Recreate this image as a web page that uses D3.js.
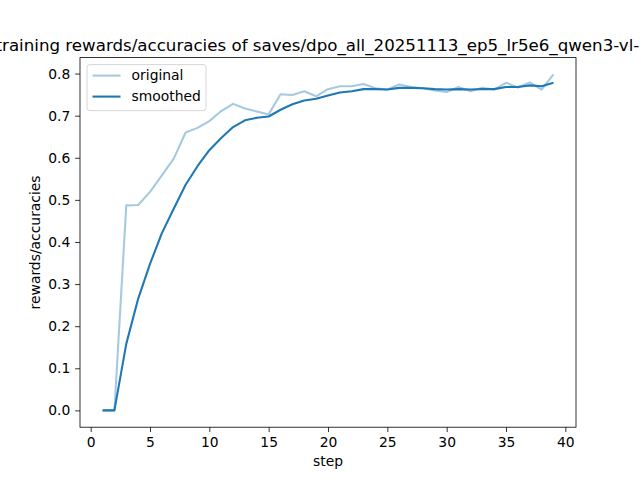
<!DOCTYPE html>
<html>
<head>
<meta charset="utf-8">
<script src="https://cdn.jsdelivr.net/npm/d3@7"></script>
<style>
	body { margin: 0; background: #fff; }
	text { font-family: "DejaVu Sans", sans-serif; fill: #000; }
</style>
</head>
<body>
<script>
// values
var steps = [1, 2, 3, 4, 5, 6, 7, 8, 9, 10, 11, 12, 13, 14, 15, 16, 17, 18, 19, 20,
	21, 22, 23, 24, 25, 26, 27, 28, 29, 30, 31, 32, 33, 34, 35, 36, 37, 38, 39];
var original = [0, 0, 0.487, 0.488, 0.519, 0.558, 0.598, 0.660, 0.671, 0.687, 0.711, 0.728, 0.717, 0.710, 0.703, 0.751, 0.749, 0.758, 0.746, 0.763,
	0.770, 0.770, 0.775, 0.765, 0.762, 0.774, 0.768, 0.765, 0.760, 0.756, 0.768, 0.758, 0.766, 0.762, 0.778, 0.767, 0.779, 0.762, 0.798];
var smoothed = [0, 0, 0.158, 0.265, 0.348, 0.421, 0.479, 0.536, 0.580, 0.618, 0.647, 0.673, 0.689, 0.695, 0.698, 0.714, 0.727, 0.736, 0.740, 0.748,
	0.755, 0.758, 0.763, 0.763, 0.762, 0.766, 0.766, 0.765, 0.763, 0.762, 0.763, 0.762, 0.763, 0.763, 0.768, 0.768, 0.772, 0.770, 0.778];
var xTicks = [0, 5, 10, 15, 20, 25, 30, 35, 40];
var yTicks = [0.0, 0.1, 0.2, 0.3, 0.4, 0.5, 0.6, 0.7, 0.8];

var width = 640, height = 480;
var margin = { left: 80, right: 64, top: 57.6, bottom: 52.8 };
var blue = '#1f77b4';
var fs = 13.89;

var svg = d3.select('body')
	.append('svg')
	.attr('width', width)
	.attr('height', height);

// matplotlib style 5% padding around the data
var x = d3.scaleLinear()
	.domain([1 - 1.9, 39 + 1.9])
	.range([margin.left, width - margin.right]);
var y = d3.scaleLinear()
	.domain([-0.0399, 0.8379])
	.range([height - margin.bottom, margin.top]);

var xAxis = d3.axisBottom(x)
	.tickValues(xTicks)
	.tickSize(4.86)
	.tickPadding(4.86)
	.tickFormat(d3.format('d'));
var yAxis = d3.axisLeft(y)
	.tickValues(yTicks)
	.tickSize(4.86)
	.tickPadding(4.86)
	.tickFormat(d3.format('.1f'));

var gx = svg.append('g')
	.attr('transform', 'translate(0,' + (height - margin.bottom) + ')')
	.call(xAxis);
var gy = svg.append('g')
	.attr('transform', 'translate(' + margin.left + ',0)')
	.call(yAxis);

[gx, gy].forEach(function(g) {
	g.select('.domain').remove();
	g.selectAll('.tick line').attr('stroke', '#000').attr('stroke-width', 0.8);
	g.selectAll('.tick text')
		.attr('font-family', 'DejaVu Sans')
		.attr('font-size', fs)
		.attr('fill', '#000');
});

var line = d3.line()
	.x(function(d, i) { return x(steps[i]); })
	.y(function(d) { return y(d); });

svg.append('path')
	.datum(original)
	.attr('fill', 'none')
	.attr('stroke', blue)
	.attr('stroke-opacity', 0.4)
	.attr('stroke-width', 2.08)
	.attr('stroke-linejoin', 'round')
	.attr('d', line);

svg.append('path')
	.datum(smoothed)
	.attr('fill', 'none')
	.attr('stroke', blue)
	.attr('stroke-width', 2.08)
	.attr('stroke-linejoin', 'round')
	.attr('d', line);

// frame
svg.append('rect')
	.attr('x', margin.left)
	.attr('y', margin.top)
	.attr('width', width - margin.left - margin.right)
	.attr('height', height - margin.top - margin.bottom)
	.attr('fill', 'none')
	.attr('stroke', '#000')
	.attr('stroke-width', 0.8);

// legend
var legend = svg.append('g')
	.attr('transform', 'translate(' + (margin.left + 7) + ',' + (margin.top + 7) + ')');
legend.append('rect')
	.attr('width', 119)
	.attr('height', 46)
	.attr('rx', 2.8)
	.attr('fill', '#fff')
	.attr('fill-opacity', 0.8)
	.attr('stroke', '#cccccc')
	.attr('stroke-width', 0.8);

var items = [
	{ label: 'original', opacity: 0.4 },
	{ label: 'smoothed', opacity: 1 }
];
var rows = legend.selectAll('g.item')
	.data(items)
	.enter()
	.append('g')
	.attr('class', 'item')
	.attr('transform', function(d, i) {
		return 'translate(0,' + (11 + i * 21) + ')';
	});
rows.append('line')
	.attr('x1', 5.5)
	.attr('x2', 33.5)
	.attr('stroke', blue)
	.attr('stroke-opacity', function(d) { return d.opacity; })
	.attr('stroke-width', 2.08);
rows.append('text')
	.attr('x', 44.6)
	.attr('dy', '0.35em')
	.attr('font-size', fs)
	.text(function(d) { return d.label; });

// labels
svg.append('text')
	.attr('x', margin.left + (width - margin.left - margin.right) / 2)
	.attr('y', 466)
	.attr('text-anchor', 'middle')
	.attr('font-size', fs)
	.text('step');

svg.append('text')
	.attr('transform', 'translate(40,' + (margin.top + (height - margin.top - margin.bottom) / 2) + ') rotate(-90)')
	.attr('text-anchor', 'middle')
	.attr('font-size', fs)
	.text('rewards/accuracies');

// the title is wider than the figure, as in the reference
svg.append('text')
	.attr('x', margin.left + (width - margin.left - margin.right) / 2)
	.attr('y', 51)
	.attr('text-anchor', 'middle')
	.attr('font-size', 16.67)
	.text('training rewards/accuracies of saves/dpo_all_20251113_ep5_lr5e6_qwen3-vl-8b');
</script>
</body>
</html>
